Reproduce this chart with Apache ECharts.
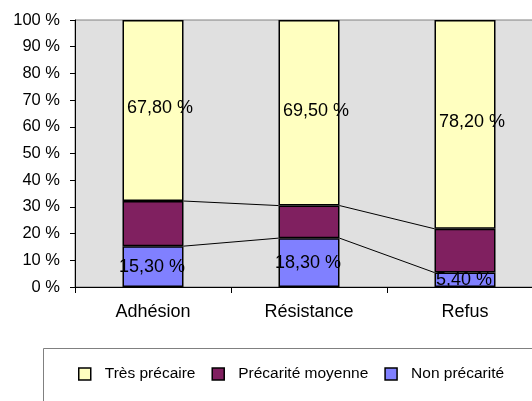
<!DOCTYPE html>
<html>
<head>
<meta charset="utf-8">
<script src="https://cdn.jsdelivr.net/npm/echarts@6/dist/echarts.min.js"></script>
<style>
  html, body { margin: 0; padding: 0; background: #fff; }
  #chart { width: 532px; height: 401px; }
</style>
</head>
<body>
<div id="chart"></div>
<script>
  // categories and percentages
  var categories = ['Adhésion', 'Résistance', 'Refus'];
  var nonPrecarite = [15.3, 18.3, 5.4];
  var precariteMoyenne = [16.9, 12.2, 16.4];
  var tresPrecaire = [67.8, 69.5, 78.2];
  var yTicks = [0, 10, 20, 30, 40, 50, 60, 70, 80, 90, 100];

  var BAR_W = 61;
  var FONT = 'Arial, "Liberation Sans", sans-serif';

  function frPct (v) {
    return v.toFixed(2).replace('.', ',') + ' %';
  }

  // series lines (Excel style) joining the top of each stack level
  function levelLines (levels) {
    var out = [];
    for (var i = 0; i < categories.length - 1; i++) {
      out.push([i, levels[i], levels[i + 1]]);
    }
    return out;
  }
  var topBlue = nonPrecarite.slice();
  var topPurple = nonPrecarite.map(function (v, i) { return v + precariteMoyenne[i]; });
  var lineData = levelLines(topBlue).concat(levelLines(topPurple));

  var chart = echarts.init(document.getElementById('chart'));

  var option = {
    backgroundColor: '#fff',
    animation: false,
    textStyle: {fontFamily: FONT, color: '#000'},
    grid: {
      left: 75, top: 20, right: -11, bottom: 114,
      outerBoundsMode: 'none',
      containLabel: false,
      show: true,
      backgroundColor: '#e0e0e0',
      borderColor: '#808080',
      borderWidth: 1
    },
    legend: {
      data: ['Très précaire', 'Précarité moyenne', 'Non précarité'],
      left: 73, top: 361,
      icon: 'rect',
      itemWidth: 12, itemHeight: 12,
      itemGap: 16,
      itemStyle: {borderColor: '#000', borderWidth: 1.5},
      textStyle: {fontSize: 15.5, fontFamily: FONT, color: '#000', padding: [0, 0, 0, 9]}
    },
    graphic: [{
      type: 'rect',
      shape: {x: 43.5, y: 348.5, width: 600, height: 100},
      style: {fill: 'none', stroke: '#808080', lineWidth: 1},
      silent: true
    }],
    xAxis: {
      type: 'category',
      data: categories,
      axisLine: {lineStyle: {color: '#000'}},
      axisTick: {show: true, length: 6, lineStyle: {color: '#000'}},
      axisLabel: {fontSize: 18, color: '#000', margin: 16, fontFamily: FONT}
    },
    yAxis: {
      type: 'value',
      min: yTicks[0], max: yTicks[yTicks.length - 1], interval: 10,
      axisLine: {show: true, lineStyle: {color: '#000'}},
      axisTick: {show: true, length: 5, lineStyle: {color: '#000'}},
      splitLine: {show: false},
      axisLabel: {fontSize: 16.5, color: '#000', margin: 15, fontFamily: FONT, formatter: '{value} %'}
    },
    series: [
      {
        name: 'Non précarité',
        type: 'bar',
        stack: 'total',
        barWidth: BAR_W,
        data: nonPrecarite,
        itemStyle: {color: '#8080ff', borderColor: '#000', borderWidth: 1.5},
        label: {
          show: true, position: 'inside', offset: [-1, 0],
          fontSize: 18, color: '#000', fontFamily: FONT,
          formatter: function (p) { return frPct(p.value); }
        }
      },
      {
        name: 'Précarité moyenne',
        type: 'bar',
        stack: 'total',
        barWidth: BAR_W,
        data: precariteMoyenne,
        itemStyle: {color: '#802060', borderColor: '#000', borderWidth: 1.5}
      },
      {
        name: 'Très précaire',
        type: 'bar',
        stack: 'total',
        barWidth: BAR_W,
        data: tresPrecaire,
        itemStyle: {color: '#ffffc0', borderColor: '#000', borderWidth: 1.5},
        label: {
          show: true, position: 'inside', offset: [7, -2],
          fontSize: 18, color: '#000', fontFamily: FONT,
          formatter: function (p) { return frPct(p.value); }
        }
      },
      {
        name: 'lines',
        type: 'custom',
        silent: true,
        z: 1,
        data: lineData,
        encode: {x: 0, y: 1},
        renderItem: function (params, api) {
          var a = api.coord([api.value(0), api.value(1)]);
          var b = api.coord([api.value(0) + 1, api.value(2)]);
          return {
            type: 'line',
            shape: {x1: a[0] + BAR_W / 2, y1: a[1], x2: b[0] - BAR_W / 2, y2: b[1]},
            style: {stroke: '#000', lineWidth: 1}
          };
        }
      }
    ]
  };

  chart.setOption(option);
</script>
</body>
</html>
